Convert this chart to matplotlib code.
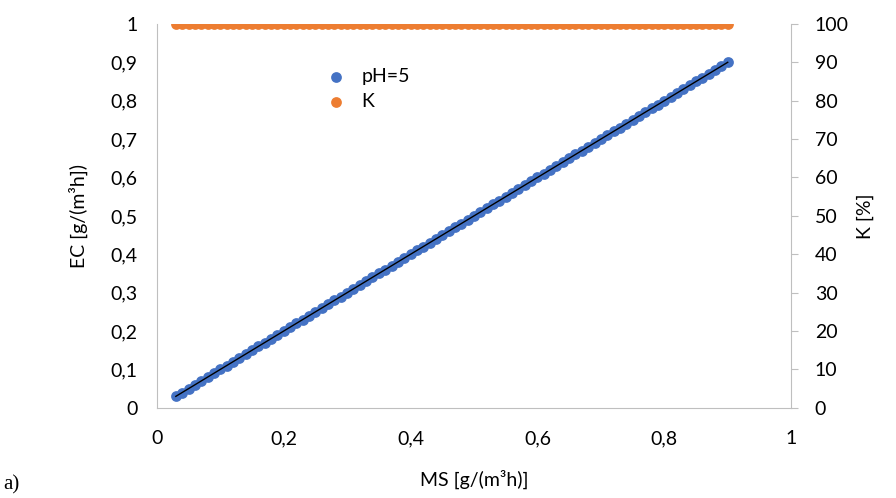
import numpy as np
import matplotlib.pyplot as plt
from matplotlib.ticker import FuncFormatter

plt.rcParams['font.family'] = ['Lato', 'DejaVu Sans']

# MS values (x) and measured EC for pH=5, K removal (%)
ms = [0.03, 0.04, 0.05, 0.06, 0.07, 0.08, 0.09, 0.10, 0.11, 0.12,
      0.13, 0.14, 0.15, 0.16, 0.17, 0.18, 0.19, 0.20, 0.21, 0.22,
      0.23, 0.24, 0.25, 0.26, 0.27, 0.28, 0.29, 0.30, 0.31, 0.32,
      0.33, 0.34, 0.35, 0.36, 0.37, 0.38, 0.39, 0.40, 0.41, 0.42,
      0.43, 0.44, 0.45, 0.46, 0.47, 0.48, 0.49, 0.50, 0.51, 0.52,
      0.53, 0.54, 0.55, 0.56, 0.57, 0.58, 0.59, 0.60, 0.61, 0.62,
      0.63, 0.64, 0.65, 0.66, 0.67, 0.68, 0.69, 0.70, 0.71, 0.72,
      0.73, 0.74, 0.75, 0.76, 0.77, 0.78, 0.79, 0.80, 0.81, 0.82,
      0.83, 0.84, 0.85, 0.86, 0.87, 0.88, 0.89, 0.90]
ec_ph5 = [0.03, 0.04, 0.05, 0.06, 0.07, 0.08, 0.09, 0.10, 0.11, 0.12,
          0.13, 0.14, 0.15, 0.16, 0.17, 0.18, 0.19, 0.20, 0.21, 0.22,
          0.23, 0.24, 0.25, 0.26, 0.27, 0.28, 0.29, 0.30, 0.31, 0.32,
          0.33, 0.34, 0.35, 0.36, 0.37, 0.38, 0.39, 0.40, 0.41, 0.42,
          0.43, 0.44, 0.45, 0.46, 0.47, 0.48, 0.49, 0.50, 0.51, 0.52,
          0.53, 0.54, 0.55, 0.56, 0.57, 0.58, 0.59, 0.60, 0.61, 0.62,
          0.63, 0.64, 0.65, 0.66, 0.67, 0.68, 0.69, 0.70, 0.71, 0.72,
          0.73, 0.74, 0.75, 0.76, 0.77, 0.78, 0.79, 0.80, 0.81, 0.82,
          0.83, 0.84, 0.85, 0.86, 0.87, 0.88, 0.89, 0.90]
k_pct = [100] * len(ms)

blue = '#4472c4'
orange = '#ed7d31'
grey = '#bfbfbf'

def comma(v, pos):
    s = ('%.1f' % v).rstrip('0').rstrip('.')
    return s.replace('.', ',')

fig = plt.figure(figsize=(8.96, 4.98), dpi=100)
ax = fig.add_axes([0.175, 0.181, 0.708, 0.771])
ax2 = ax.twinx()

p1 = ax.scatter(ms, ec_ph5, s=60, color=blue, linewidths=0, zorder=3, label='pH=5')
coef = np.polyfit(ms, ec_ph5, 1)
ax.plot([ms[0], ms[-1]], np.polyval(coef, [ms[0], ms[-1]]), color='black', lw=1, zorder=4)
p2 = ax2.scatter(ms, k_pct, s=60, color=orange, linewidths=0, zorder=3, label='K')

ax.set_xlim(0, 1)
ax.set_ylim(0, 1)
ax2.set_ylim(0, 100)
ax.set_xticks(np.arange(0, 1.01, 0.2))
ax.set_yticks(np.arange(0, 1.01, 0.1))
ax2.set_yticks(np.arange(0, 101, 10))
ax.xaxis.set_major_formatter(FuncFormatter(comma))
ax.yaxis.set_major_formatter(FuncFormatter(comma))

for a in (ax, ax2):
    a.spines['top'].set_visible(False)
    for sp in ('left', 'right', 'bottom'):
        a.spines[sp].set_color(grey)
ax.spines['right'].set_visible(False)
ax2.spines['left'].set_visible(False)
ax2.spines['bottom'].set_visible(False)

ax.tick_params(axis='y', length=0, labelsize=14, colors='black', pad=14)
ax.tick_params(axis='x', length=0, labelsize=14, colors='black', pad=16)
ax2.tick_params(axis='y', length=5, color=grey, labelsize=14, labelcolor='black', pad=12)

ax.set_xlabel('MS [g/(m³h)]', fontsize=14, labelpad=16)
ax.set_ylabel('EC [g/(m³h])', fontsize=14, labelpad=16)
ax2.set_ylabel('K [%]', fontsize=14, labelpad=6)

ax.legend(handles=[p1, p2], loc='upper left', bbox_to_anchor=(0.24, 0.93),
          frameon=False, fontsize=14, handletextpad=0.8, labelspacing=0.4,
          handlelength=1.0)

fig.text(0.004, 0.008, 'a)', fontsize=15, family='Liberation Serif', va='bottom')

fig.savefig('out.png')
